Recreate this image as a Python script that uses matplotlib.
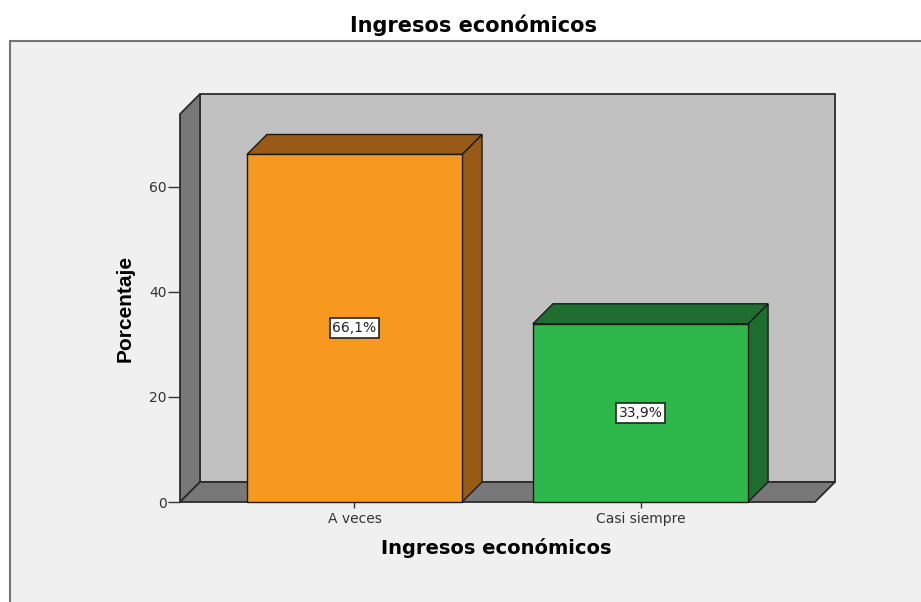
import matplotlib
matplotlib.use("Agg")
import matplotlib.pyplot as plt
from matplotlib.patches import Rectangle, Polygon

# data
categories = ["A veces", "Casi siempre"]
percent = [66.1, 33.9]
labels = ["66,1%", "33,9%"]
yticks = [0, 20, 40, 60]

front_colors = ["#f7991f", "#2eb84b"]
dark_colors = ["#985a14", "#1f6e2f"]

W, H = 921, 602
DPI = 100
fig = plt.figure(figsize=(W / DPI, H / DPI), dpi=DPI)
fig.patch.set_facecolor("white")

# outer panel (cropped SPSS frame)
panel = Rectangle((10 / W, -0.05), 1.1, (H - 41) / H + 0.05,
                  transform=fig.transFigure, facecolor="#f0f0f0",
                  edgecolor="#747474", linewidth=1.5, zorder=-10)
fig.patches.append(panel)

# front plane of the plot in pixels
left_px, right_px, top_px, zero_px = 180, 815, 114, 502
ax = fig.add_axes([left_px / W, (H - zero_px) / H,
                   (right_px - left_px) / W, (zero_px - top_px) / H])
ax.set_zorder(1)
ax.patch.set_visible(False)
for s in ax.spines.values():
    s.set_visible(False)

xmin, xmax = -0.61, 1.61
ymax = 73.8
ax.set_xlim(xmin, xmax)
ax.set_ylim(0, ymax)

DEPTH = 20  # px
ddx = DEPTH * (xmax - xmin) / (right_px - left_px)
ddy = DEPTH * ymax / (zero_px - top_px)

edge = "#2b2b2b"
# back wall
ax.add_patch(Rectangle((xmin + ddx, ddy), xmax - xmin, ymax, facecolor="#c0c0c0",
                       edgecolor=edge, linewidth=1.3, clip_on=False, zorder=1))
# left wall
ax.add_patch(Polygon([(xmin, 0), (xmin + ddx, ddy), (xmin + ddx, ymax + ddy), (xmin, ymax)],
                     closed=True, facecolor="#787878", edgecolor=edge, linewidth=1.3,
                     clip_on=False, zorder=2))
# floor
ax.add_patch(Polygon([(xmin, 0), (xmin + ddx, ddy), (xmax + ddx, ddy), (xmax, 0)],
                     closed=True, facecolor="#787878", edgecolor=edge, linewidth=1.3,
                     clip_on=False, zorder=2))

bw = 0.752
for i, v in enumerate(percent):
    x0, x1 = i - bw / 2, i + bw / 2
    ax.add_patch(Polygon([(x1, 0), (x1 + ddx, ddy), (x1 + ddx, v + ddy), (x1, v)],
                         closed=True, facecolor=dark_colors[i], edgecolor="#1a1a1a",
                         linewidth=1.0, clip_on=False, zorder=3))
    ax.add_patch(Polygon([(x0, v), (x0 + ddx, v + ddy), (x1 + ddx, v + ddy), (x1, v)],
                         closed=True, facecolor=dark_colors[i], edgecolor="#1a1a1a",
                         linewidth=1.0, clip_on=False, zorder=3))
    ax.add_patch(Rectangle((x0, 0), bw, v, facecolor=front_colors[i],
                           edgecolor="#1a1a1a", linewidth=1.0, clip_on=False, zorder=4))
    ax.text(i, v / 2, labels[i], ha="center", va="center", fontsize=10,
            color="#222222", zorder=5,
            bbox=dict(boxstyle="square,pad=0.2", facecolor="white",
                      edgecolor="#222222", linewidth=1.2))

ax.set_yticks(yticks)
ax.set_yticklabels([str(t) for t in yticks])
ax.set_xticks(range(len(categories)))
ax.set_xticklabels(categories)
ax.tick_params(axis="y", length=8.6, width=1.0, color="#333333", labelcolor="#333333",
               labelsize=10, pad=1)
ax.tick_params(axis="x", length=4.3, width=1.0, color="#333333", labelcolor="#333333",
               labelsize=10, pad=3)

fig.text(473 / W, 1 - 25 / H, "Ingresos económicos", ha="center", va="center",
         fontsize=15, fontweight="bold", color="black")
fig.text(496.5 / W, 1 - 548 / H, "Ingresos económicos", ha="center", va="center",
         fontsize=14, fontweight="bold", color="black")
fig.text(125 / W, 1 - 308 / H, "Porcentaje", ha="center", va="center", rotation=90,
         fontsize=15, fontweight="bold", color="black", family="Liberation Sans")

fig.savefig("out.png", dpi=DPI, facecolor=fig.get_facecolor())
